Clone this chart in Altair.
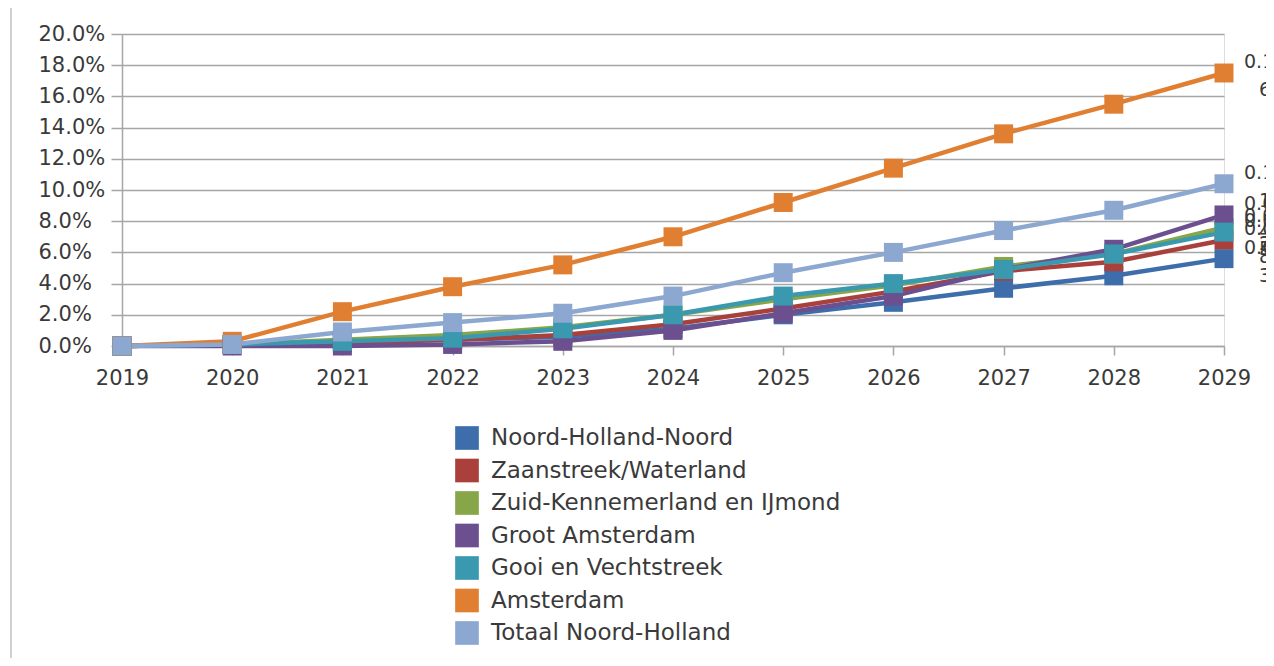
import altair as alt
import pandas as pd

years = [2019, 2020, 2021, 2022, 2023, 2024, 2025, 2026, 2027, 2028, 2029]

series_names = [
    "Noord-Holland-Noord",
    "Zaanstreek/Waterland",
    "Zuid-Kennemerland en IJmond",
    "Groot Amsterdam",
    "Gooi en Vechtstreek",
    "Amsterdam",
    "Totaal Noord-Holland",
]

noord_holland_noord = [0.000, 0.001, 0.003, 0.004, 0.006, 0.011, 0.020, 0.028, 0.037, 0.045, 0.056]
zaanstreek_waterland = [0.000, 0.001, 0.002, 0.004, 0.007, 0.014, 0.024, 0.035, 0.048, 0.054, 0.068]
zuid_kennemerland = [0.000, 0.001, 0.004, 0.007, 0.012, 0.020, 0.030, 0.039, 0.051, 0.059, 0.076]
groot_amsterdam = [0.000, 0.000, 0.000, 0.001, 0.003, 0.010, 0.021, 0.032, 0.049, 0.062, 0.084]
gooi_vechtstreek = [0.000, 0.001, 0.003, 0.005, 0.011, 0.020, 0.032, 0.040, 0.049, 0.059, 0.073]
amsterdam = [0.000, 0.003, 0.022, 0.038, 0.052, 0.070, 0.092, 0.114, 0.136, 0.155, 0.175]
totaal_noord_holland = [0.000, 0.001, 0.009, 0.015, 0.021, 0.032, 0.047, 0.060, 0.074, 0.087, 0.104]

series_values = [
    noord_holland_noord,
    zaanstreek_waterland,
    zuid_kennemerland,
    groot_amsterdam,
    gooi_vechtstreek,
    amsterdam,
    totaal_noord_holland,
]

colors = ["#3D6DAA", "#A9403C", "#87A64A", "#6C4F8F", "#3A98AF", "#E07F31", "#8DA8D0"]

# end-of-line data labels (partly cut off at the right edge in the original)
label_line1 = ["0.0", "0.0", "0.0", "0.0", "0.0", "0.1", "0.1"]
label_line2 = ["3", "8", "2", "4", "5", "6", "1"]

y_ticks = [0.0, 0.02, 0.04, 0.06, 0.08, 0.10, 0.12, 0.14, 0.16, 0.18, 0.20]

rows = []
for name, vals in zip(series_names, series_values):
    for yr, v in zip(years, vals):
        rows.append({"year": yr, "value": v, "series": name})
df = pd.DataFrame(rows)

lab = pd.DataFrame({
    "series": series_names,
    "year": [years[-1]] * len(series_names),
    "value": [vals[-1] for vals in series_values],
    "l1": label_line1,
    "l2": label_line2,
})

FONT = "DejaVu Sans"
TXT = "#3A3A3A"
GRID = "#A6A6A6"

color_scale = alt.Scale(domain=series_names, range=colors)

legend = alt.Legend(
    title=None, orient="none", legendX=333, legendY=392,
    symbolType="square", symbolSize=560, symbolStrokeWidth=0,
    labelFont=FONT, labelFontSize=23, labelColor=TXT, labelLimit=0,
    labelOffset=12, rowPadding=8.5, padding=0,
)

x_enc = alt.X(
    "year:Q",
    scale=alt.Scale(domain=[2019, 2029], nice=False, zero=False),
    axis=alt.Axis(
        values=years, tickCount=11, format="d", title=None, grid=False,
        tickSize=9, tickColor=GRID, tickWidth=1.5,
        domainColor=GRID, domainWidth=1.5,
        labelFont=FONT, labelFontSize=21, labelColor=TXT, labelPadding=12,
        labelFlush=False, labelOverlap=False,
    ),
)
y_enc = alt.Y(
    "value:Q",
    scale=alt.Scale(domain=[0, 0.2], nice=False),
    axis=alt.Axis(
        values=y_ticks, tickCount=11, format=".1%", title=None,
        grid=True, gridColor=GRID, gridWidth=1.5,
        tickSize=11, tickColor=GRID, tickWidth=1.5,
        domainColor=GRID, domainWidth=1.5,
        labelFont=FONT, labelFontSize=21, labelColor=TXT,
        labelAlign="left", labelPadding=73, labelBaseline="middle",
        labelOverlap=False, labelFlush=False,
    ),
)

lines = alt.Chart(df).mark_line(strokeWidth=4.5).encode(
    x=x_enc,
    y=y_enc,
    color=alt.Color("series:N", scale=color_scale, sort=series_names, legend=legend),
)

points = alt.Chart(df).mark_square(size=360, opacity=1, filled=True).encode(
    x=x_enc,
    y=y_enc,
    color=alt.Color("series:N", scale=color_scale, sort=series_names, legend=legend),
)

text1 = alt.Chart(lab).mark_text(
    align="left", baseline="middle", dx=20, dy=-11, font=FONT, fontSize=19, color=TXT
).encode(x="year:Q", y="value:Q", text="l1:N")

text2 = alt.Chart(lab).mark_text(
    align="left", baseline="middle", dx=35, dy=17, font=FONT, fontSize=19, color=TXT
).encode(x="year:Q", y="value:Q", text="l2:N")

dummy = pd.DataFrame({"k": [0]})
frame_left = alt.Chart(dummy).mark_rule(color="#D0D0D0", strokeWidth=2).encode(
    x=alt.value(-111), y=alt.value(-27), y2=alt.value(700)
)
frame_top = alt.Chart(dummy).mark_rule(color="#D0D0D0", strokeWidth=2).encode(
    x=alt.value(-111), x2=alt.value(1300), y=alt.value(-27)
)

chart = alt.layer(frame_left, frame_top, lines, points, text1, text2).properties(
    width=1102,
    height=312,
    autosize=alt.AutoSizeParams(type="none"),
    padding={"left": 114, "top": 26, "right": 42, "bottom": 312},
).configure_view(stroke=None).configure(background="white")

chart.save("out.html", embed_options={"renderer": "svg", "actions": False})
